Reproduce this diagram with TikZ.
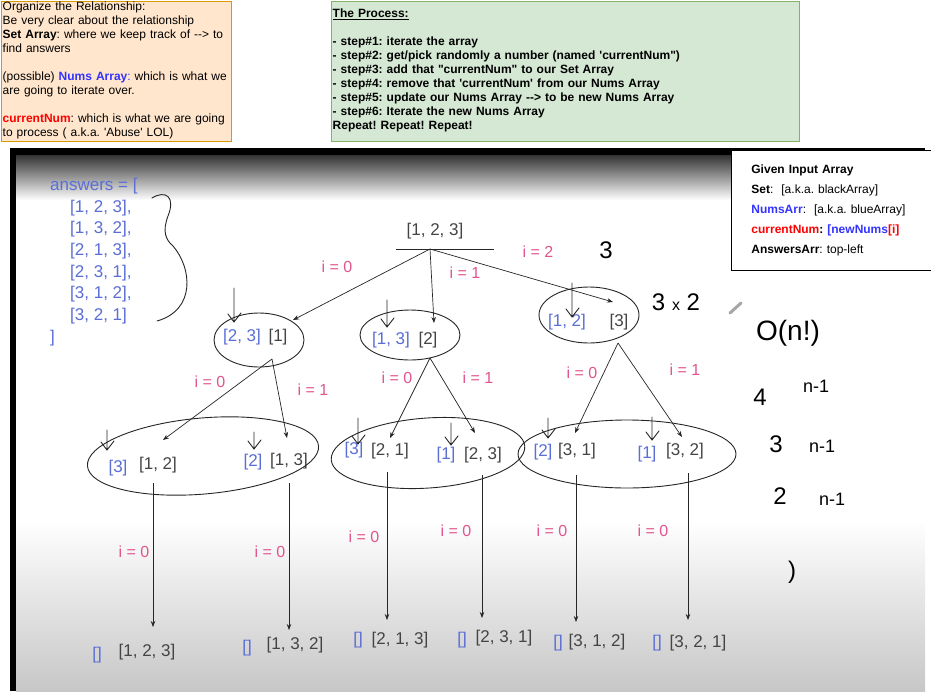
\documentclass[tikz,border=0pt]{standalone}
\usepackage{fontspec}
\setmainfont{Liberation Sans}
\usepackage{xcolor}
\usepackage{tikz}
\usetikzlibrary{arrows.meta,positioning}

\definecolor{noteorange}{HTML}{FFE6CC}
\definecolor{noteorangeline}{HTML}{D79B00}
\definecolor{notegreen}{HTML}{D5E8D4}
\definecolor{notegreenline}{HTML}{82B366}
\definecolor{keyblue}{HTML}{3333FF}
\definecolor{keyred}{HTML}{FF0000}
\definecolor{slideblue}{HTML}{5A6ED6}
\definecolor{slidepink}{HTML}{E2558E}
\definecolor{slidegray}{HTML}{444444}
\newcommand{\sq}{\textquotesingle}
\newcommand{\dq}{\textquotedbl}
\frenchspacing

\begin{document}
\begin{tikzpicture}[x=1pt,y=-1pt,
  arr/.style={-{Stealth[length=6pt,width=4.5pt]},line width=0.7pt,black!85},
  hand/.style={line width=0.9pt,black!85,line cap=round},
  idx/.style={text=slidepink,inner sep=0pt,font=\fontsize{16}{16}\selectfont},
  setarr/.style={text=slideblue,inner sep=0pt,font=\fontsize{17}{17}\selectfont},
  numarr/.style={text=slidegray,inner sep=0pt,font=\fontsize{17}{17}\selectfont},
  ink/.style={inner sep=0pt,font=\fontsize{24}{24}\selectfont}]
\useasboundingbox (0,0) rectangle (931,691);

% notes on top
\node (relnote) [draw=noteorangeline, fill=noteorange, anchor=north west, text width=226pt,
  inner xsep=2pt, inner ysep=0pt, minimum height=140pt, align=left,
  font=\fontsize{12}{14}\selectfont] at (0.5,0.5) {Organize the Relationship:\\
Be very clear about the relationship\\
\textbf{Set Array}: where we keep track of -{}-> to\\
find answers\\[14pt]
(possible) {\color{keyblue}\textbf{Nums Array}:} which is what we\\
are going to iterate over.\\[14pt]
{\color{keyred}\textbf{currentNum}}: which is what we are going\\
to process ( a.k.a. \sq Abuse\sq{} LOL)};
\node (process) [draw=notegreenline, fill=notegreen, anchor=north west, text width=464pt,
  inner xsep=2pt, inner ysep=0pt, minimum height=140pt, align=left,
  font=\fontsize{12}{14}\selectfont\bfseries] at (330.5,0.5) {\underline{The Process:}\\[14pt]
- step\#1: iterate the array\\
- step\#2: get/pick randomly a number (named \sq currentNum\dq)\\
- step\#3: add that \dq currentNum\dq{} to our Set Array\\
- step\#4: remove that \sq currentNum\sq{} from our Nums Array\\
- step\#5: update our Nums Array -{}-> to be new Nums Array\\
- step\#6: Iterate the new Nums Array\\
Repeat! Repeat! Repeat!};

% screenshot background
\fill[white] (10,148) rectangle (925,691);
\shade[top color=black!80, bottom color=white] (16,155) rectangle (925,200);
\shade[top color=white, bottom color=black!22] (16,520) rectangle (925,691);
\fill[black] (10,148) rectangle (925,155);
\fill[black] (10,148) rectangle (16,691);

% legend
\node (legend) [draw, line width=0.8pt, fill=white, anchor=north west, text width=160pt,
  inner xsep=20pt, inner ysep=0pt, minimum height=120pt, align=left,
  font=\fontsize{12}{20}\selectfont] at (731,150) {\textbf{Given Input Array}\\
\textbf{Set}:~~[a.k.a. blackArray]\\
{\color{keyblue}\textbf{NumsArr}}:~~[a.k.a. blueArray]\\
{\color{keyred}\textbf{currentNum}}\textbf{: }{\color{keyblue}\textbf{[newNums}}{\color{keyred}\textbf{[i]}}\\
\textbf{AnswersArr}: top-left};

% answers list
\node[setarr,anchor=west] (ans0) at (50,186) {answers = [};
\foreach \p [count=\k] in {{[1, 2, 3],},{[1, 3, 2],},{[2, 1, 3],},{[2, 3, 1],},{[3, 1, 2],},{[3, 2, 1]}}
  \node[setarr,anchor=west] (ans\k) at (70,186+21.7*\k) {\p};
\node[setarr,anchor=west] (ansend) at (50,338) {]};
\draw[hand] (152,198) .. controls (165,190) and (176,196) .. (168,216)
  .. controls (162,232) and (166,240) .. (173,246)
  .. controls (192,268) and (196,310) .. (157,321);

% root
\node[numarr] (root) at (435,231) {[1, 2, 3]};
\coordinate (rj) at (430,249);
\draw[line width=0.7pt,black!85] (rj) +(-34,0) -- +(64,0);
\coordinate (ta) at (293,320);
\coordinate (tb) at (434,323);
\coordinate (tc) at (613,302);
\draw[arr] (rj) -- (ta);
\draw[arr] (rj) -- (tb);
\draw[arr] (rj) -- (tc);
\node[idx] (ra) at (337,267) {i = 0};
\node[idx] (rb) at (465,273) {i = 1};
\node[idx] (rc) at (538,252) {i = 2};

% level 1
\foreach \k/\sx/\nx/\y/\s/\n in {a/242/278/337/{[2, 3]}/{[1]}, b/391/428/340/{[1, 3]}/{[2]}, c/567/619/322/{[1, 2]}/{[3]}} {
  \node[setarr] (s\k) at (\sx,\y) {\s};
  \node[numarr] (n\k) at (\nx,\y) {\n};
}
\draw[hand] (259,340) ellipse [x radius=45, y radius=27];
\draw[hand] (410,335) ellipse [x radius=50, y radius=25];
\draw[hand] (589,315) ellipse [x radius=50, y radius=28];

\coordinate (ja) at (272,359);
\coordinate (jb) at (430,358);
\coordinate (jc) at (618,343);
\coordinate (ta1) at (163,440);
\coordinate (ta2) at (287,438);
\coordinate (tb1) at (390,438);
\coordinate (tb2) at (475,433);
\coordinate (tc1) at (575,433);
\coordinate (tc2) at (682,437);
\draw[arr] (ja) -- (ta1);
\draw[arr] (ja) -- (ta2);
\draw[arr] (jb) -- (tb1);
\draw[arr] (jb) -- (tb2);
\draw[arr] (jc) -- (tc1);
\draw[arr] (jc) -- (tc2);
\node[idx] (la1) at (210,382) {i = 0};
\node[idx] (la2) at (313,390) {i = 1};
\node[idx] (lb1) at (397,378) {i = 0};
\node[idx] (lb2) at (478,378) {i = 1};
\node[idx] (lc1) at (582,373) {i = 0};
\node[idx] (lc2) at (685,370) {i = 1};

% level 2
\foreach \k/\sx/\sy/\nx/\ny/\s/\n in {a1/118/468/158/465/{[3]}/{[1, 2]}, a2/253/462/289/461/{[2]}/{[1, 3]},
    b1/354/450/390/451/{[3]}/{[2, 1]}, b2/446/455/483/455/{[1]}/{[2, 3]},
    c1/543/452/577/451/{[2]}/{[3, 1]}, c2/647/454/685/451/{[1]}/{[3, 2]}} {
  \node[setarr] (s\k) at (\sx,\sy) {\s};
  \node[numarr] (n\k) at (\nx,\ny) {\n};
}
\draw[hand, rotate around={5:(203,456)}] (203,456) ellipse [x radius=116, y radius=38];
\draw[hand, rotate around={4:(428,453)}] (428,453) ellipse [x radius=97, y radius=35];
\draw[hand] (627,454) ellipse [x radius=109, y radius=34];

% small hand arrows
\foreach \x/\ya/\yb in {234/288/322, 387/300/327, 572/283/317, 107/430/450, 254/432/449,
    358/418/444, 451/423/445, 548/418/438, 652/417/440}
  \draw[hand] (\x,\ya) -- (\x,\yb) (\x-6,\yb-8) -- (\x,\yb) -- (\x+7,\yb-9);

% level 3
\foreach \k/\x/\ya/\yb/\lx/\ly in {1/153/483/627/134/552, 2/289/483/630/270/552, 3/387/472/620/364/537,
    4/482/475/618/456/531, 5/576/475/622/552/531, 6/688/473/620/653/531} {
  \coordinate (top\k) at (\x,\ya);
  \coordinate (end\k) at (\x,\yb);
  \draw[arr] (top\k) -- (end\k);
  \node[idx] (last\k) at (\lx,\ly) {i = 0};
}
\foreach \k/\sx/\sy/\nx/\ny/\n in {1/97/655/147/652/{[1, 2, 3]}, 2/247/648/295/645/{[1, 3, 2]},
    3/358/640/400/640/{[2, 1, 3]}, 4/462/640/504/638/{[2, 3, 1]},
    5/558/643/597/642/{[3, 1, 2]}, 6/657/643/698/643/{[3, 2, 1]}} {
  \node[setarr] (e\k) at (\sx,\sy) {[]};
  \node[numarr] (p\k) at (\nx,\ny) {\n};
}

% handwritten notes
\node[ink] (three) at (606,250) {3};
\node[ink] (threetwo) at (676,302) {3 {\fontsize{16}{16}\selectfont x} 2};
\draw[black!35, line width=3pt, line cap=round] (730,313) -- (741,303);
\node[ink, font=\fontsize{28}{28}\selectfont] (bigo) at (788,333) {O(n!)};
\node[ink] (four) at (760,397) {4};
\node[ink, font=\fontsize{18}{18}\selectfont] (fourn) at (816,386) {n-1};
\node[ink] (threen) at (776,444) {3};
\node[ink, font=\fontsize{18}{18}\selectfont] (threenn) at (822,446) {n-1};
\node[ink] (twon) at (780,496) {2};
\node[ink, font=\fontsize{18}{18}\selectfont] (twonn) at (832,499) {n-1};
\node[ink] (one) at (792,572) {)};
\end{tikzpicture}
\end{document}
